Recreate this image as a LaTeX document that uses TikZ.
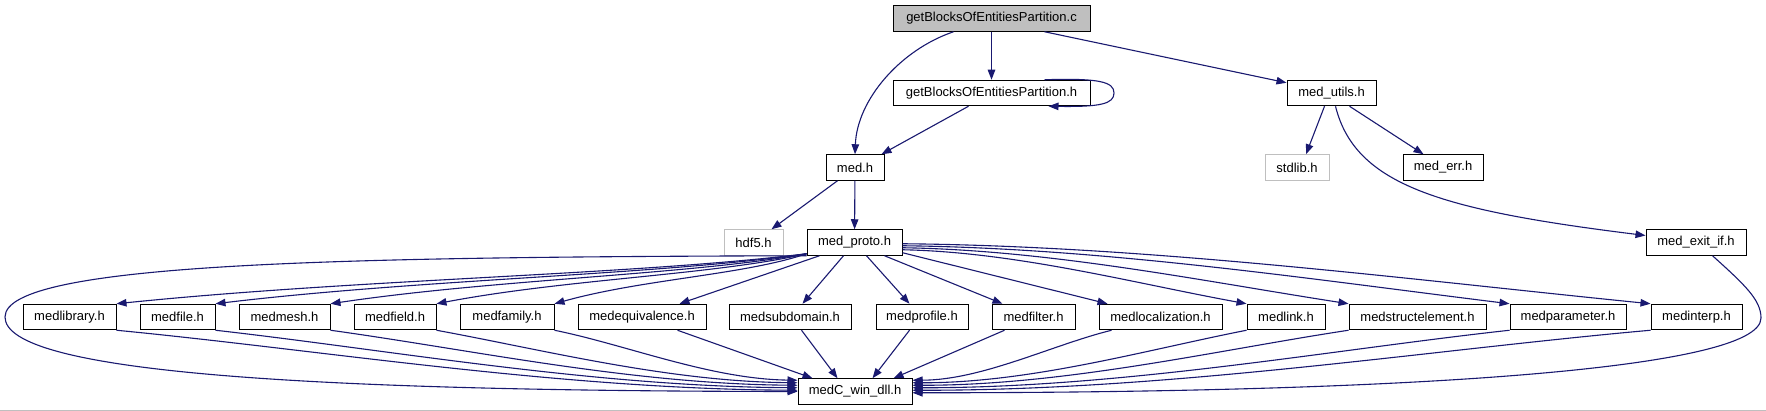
\documentclass[tikz,border=0pt]{standalone}
\usepackage{fontspec}
\setmainfont{Liberation Sans}
\usetikzlibrary{arrows.meta,calc}
\definecolor{edgecol}{HTML}{191970}
\definecolor{boxgray}{HTML}{BFBFBF}
\tikzset{
  box/.style={draw=black, line width=1pt, fill=white, minimum height=25.5pt, inner sep=0pt,
              font=\fontsize{13pt}{15pt}\selectfont, text=black},
  graybox/.style={box, draw=boxgray},
  edge/.style={draw=edgecol, line width=1.1pt, -{Triangle[length=10pt,width=7.5pt]}},
}
\begin{document}
\begin{tikzpicture}[x=1pt,y=-1pt]
\useasboundingbox (0,0) rectangle (1766,411);
\fill[white] (0,0) rectangle (1766,411);
\draw[boxgray, line width=1pt] (0,410.5) -- (1766,410.5);

% nodes
\node[box, fill=boxgray, minimum width=197pt] (c) at (991.5,18.5) {getBlocksOfEntitiesPartition.c};
\node[box, minimum width=197pt] (h) at (991.5,93) {getBlocksOfEntitiesPartition.h};
\node[box, minimum width=58pt] (med) at (855,167.5) {med.h};
\node[box, minimum width=89pt] (utils) at (1331.5,93) {med\_utils.h};
\node[graybox, minimum width=64pt] (stdlib) at (1297,167.5) {stdlib.h};
\node[box, minimum width=80pt] (err) at (1443,167.5) {med\_err.h};
\node[graybox, minimum width=59pt] (hdf5) at (753.5,242.5) {hdf5.h};
\node[box, minimum width=95pt] (proto) at (854.5,242.5) {med\_proto.h};
\node[box, minimum width=100pt] (exitif) at (1696,242.5) {med\_exit\_if.h};

\node[box, minimum width=93pt] (library) at (69.5,317) {medlibrary.h};
\node[box, minimum width=75pt] (file) at (177.5,317) {medfile.h};
\node[box, minimum width=91pt] (mesh) at (284.5,317) {medmesh.h};
\node[box, minimum width=82pt] (field) at (395,317) {medfield.h};
\node[box, minimum width=94pt] (family) at (507,317) {medfamily.h};
\node[box, minimum width=128pt] (equiv) at (642,317) {medequivalence.h};
\node[box, minimum width=122pt] (subdom) at (790,317) {medsubdomain.h};
\node[box, minimum width=92pt] (profile) at (922,317) {medprofile.h};
\node[box, minimum width=83pt] (filter) at (1033.5,317) {medfilter.h};
\node[box, minimum width=123pt] (local) at (1160.5,317) {medlocalization.h};
\node[box, minimum width=78pt] (link) at (1286,317) {medlink.h};
\node[box, minimum width=137pt] (struct) at (1417.5,317) {medstructelement.h};
\node[box, minimum width=116pt] (param) at (1568,317) {medparameter.h};
\node[box, minimum width=91pt] (interp) at (1696.5,317) {medinterp.h};

\node[box, minimum width=114pt] (dll) at (855,391.5) {medC\_win\_dll.h};

% top edges
\draw[edge] (c) -- (h);
\draw[edge] ($(c.south west)+(61,0)$) .. controls (900,50) and (857,100) .. (med.north);
\draw[edge] ($(h.south west)+(76,0)$) -- ($(med.north east)+(-3,0)$);
\draw[edge] ($(h.north east)+(-46,0)$) .. controls (1100,78) and (1114,82) .. (1114,93)
            .. controls (1114,104) and (1100,107) .. ($(h.south east)+(-42,0)$);
\draw[edge] ($(c.south east)+(-46,0)$) -- ($(utils.north west)+(0,3)$);
\draw[edge] ($(utils.south west)+(38,0)$) -- ($(stdlib.north)+(9,0)$);
\draw[edge] ($(utils.south west)+(63,0)$) -- ($(err.north west)+(21,0)$);
\draw[edge] ($(utils.south west)+(49,0)$) .. controls (1355,185) and (1440,210) .. ($(exitif.west)+(0,-7)$);
\draw[edge] ($(med.south west)+(12,0)$) -- ($(hdf5.north east)+(-12,0)$);
\draw[edge] (med) -- (proto);

% proto -> left row
\draw[edge] ($(proto.south west)+(0,-2)$) .. controls (634,275) and (358,279) .. (library.north east);
\draw[edge] ($(proto.south west)+(0,-2)$) .. controls (659,275) and (422,279) .. (file.north east);
\draw[edge] ($(proto.south west)+(0,-2)$) .. controls (688,275) and (497,279) .. (mesh.north east);
\draw[edge] ($(proto.south west)+(0,-2)$) .. controls (714,275) and (566,279) .. (field.north east);
\draw[edge] ($(proto.south west)+(0,-2)$) .. controls (744,275) and (643,279) .. (family.north east);
\draw[edge] ($(proto.south west)+(13,0)$) -- ($(equiv.north east)+(-27,0)$);
\draw[edge] ($(proto.south west)+(37,0)$) -- ($(subdom.north east)+(-49,0)$);
\draw[edge] ($(proto.south)+(12,0)$) -- ($(profile.north west)+(34,0)$);
\draw[edge] ($(proto.south)+(30,0)$) -- ($(filter.north west)+(11,0)$);
\draw[edge] ($(proto.south east)+(0,-3)$) -- ($(local.north west)+(9,0)$);
\draw[edge] ($(proto.south east)+(0,-6)$) .. controls (1016,252) and (1133,283) .. (link.north west);
\draw[edge] ($(proto.south east)+(0,-8)$) .. controls (1050,250) and (1202,281) .. (struct.north west);
\draw[edge] ($(proto.south east)+(0,-10)$) .. controls (1103,248) and (1309,279) .. (param.north west);
\draw[edge] ($(proto.south east)+(0,-12)$) .. controls (1149,246) and (1404,279) .. (interp.north west);

% proto -> dll big loop
\draw[edge] (proto.south west) .. controls (350,257) and (5,262) .. (5,317)
            .. controls (5,372) and (300,391) .. (dll.west);

% left row -> dll
\draw[edge] (library.south east) .. controls (321,350) and (559,389) .. ($(dll.north west)+(0,12)$);
\draw[edge] (file.south east) .. controls (390,350) and (594,386.5) .. ($(dll.north west)+(0,9.5)$);
\draw[edge] (mesh.south east) .. controls (473,350) and (631,384) .. ($(dll.north west)+(0,7)$);
\draw[edge] (field.south east) .. controls (544,350) and (668,381.5) .. ($(dll.north west)+(0,4.5)$);
\draw[edge] (family.south east) .. controls (627,345) and (710,379) .. ($(dll.north west)+(0,2)$);
\draw[edge] ($(equiv.south east)+(-29,0)$) -- ($(dll.north west)+(15,0)$);
\draw[edge] ($(subdom.south east)+(-50,0)$) -- ($(dll.north west)+(40,0)$);
\draw[edge] ($(profile.south west)+(34,0)$) -- ($(dll.north east)+(-40,0)$);
\draw[edge] ($(filter.south west)+(13,0)$) -- ($(dll.north east)+(-19,0)$);

% right row -> dll
\draw[edge] ($(local.south west)+(13,0)$) .. controls (1052,345) and (982,380) .. ($(dll.north east)+(0,2)$);
\draw[edge] (link.south west) .. controls (1146,350) and (1030,383) .. ($(dll.north east)+(0,4.5)$);
\draw[edge] (struct.south west) .. controls (1218,350) and (1065,385.5) .. ($(dll.north east)+(0,7)$);
\draw[edge] (param.south west) .. controls (1330,350) and (1121,388) .. ($(dll.north east)+(0,9.5)$);
\draw[edge] (interp.south west) .. controls (1429,350) and (1171,390.5) .. ($(dll.north east)+(0,12)$);
\draw[edge] ($(exitif.south west)+(67,0)$) .. controls (1745,285) and (1761,300) .. (1761,318)
            .. controls (1761,370) and (1400,393) .. ($(dll.north east)+(0,14.5)$);
\end{tikzpicture}
\end{document}
